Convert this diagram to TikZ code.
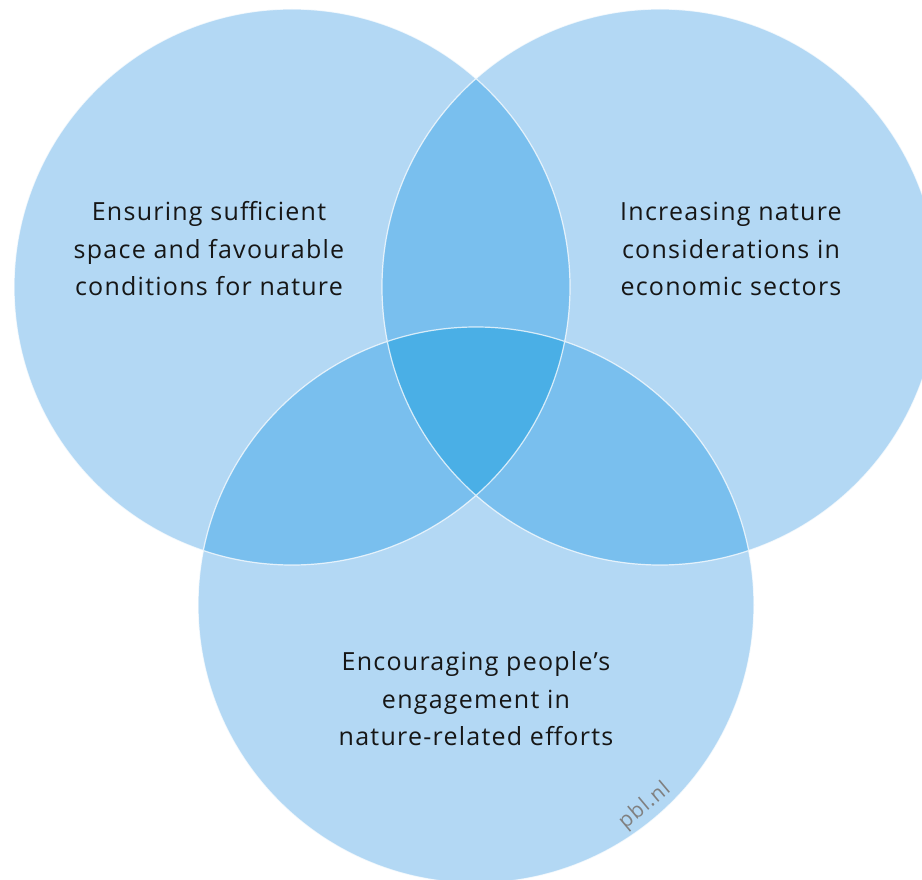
\documentclass[tikz,border=0pt]{standalone}
\usepackage{fontspec}
\setmainfont{Open Sans}[LetterSpace=5]
\definecolor{lightb}{HTML}{B3D8F4}
\definecolor{midb}{HTML}{79BFEE}
\definecolor{darkb}{HTML}{4AAFE6}
\definecolor{txt}{HTML}{161616}
\begin{document}
\begin{tikzpicture}[x=1pt,y=-1pt,
  lbl/.style={align=center, font=\fontsize{25}{37.5}\selectfont, text=txt, inner sep=0pt},
  rim/.style={draw=white, draw opacity=0.75, line width=1.2pt}]
\useasboundingbox (0,0) rectangle (922,880);
\def\rad{278}
\coordinate (cL) at (292,287);
\coordinate (cR) at (660,287);
\coordinate (cB) at (476,605);
\fill[lightb] (cL) circle[radius=\rad] (cR) circle[radius=\rad] (cB) circle[radius=\rad];
\begin{scope}
  \clip (cL) circle[radius=\rad];
  \fill[midb] (cR) circle[radius=\rad] (cB) circle[radius=\rad];
\end{scope}
\begin{scope}
  \clip (cR) circle[radius=\rad];
  \fill[midb] (cB) circle[radius=\rad];
\end{scope}
\begin{scope}
  \clip (cL) circle[radius=\rad];
  \clip (cR) circle[radius=\rad];
  \fill[darkb] (cB) circle[radius=\rad];
\end{scope}
\draw[rim] (cL) circle[radius=\rad] (cR) circle[radius=\rad] (cB) circle[radius=\rad];
\node[lbl] (tL) at (209,249) {Ensuring sufficient\\space and favourable\\conditions for nature};
\node[lbl] (tR) at (731,249) {Increasing nature\\considerations in\\economic sectors};
\node[lbl] (tB) at (476,699) {Encouraging people’s\\engagement in\\nature-related efforts};
\node[text=black!50, font=\fontsize{21}{24}\selectfont, rotate=40, inner sep=0pt] (src) at (645,806) {pbl.nl};
\end{tikzpicture}
\end{document}
